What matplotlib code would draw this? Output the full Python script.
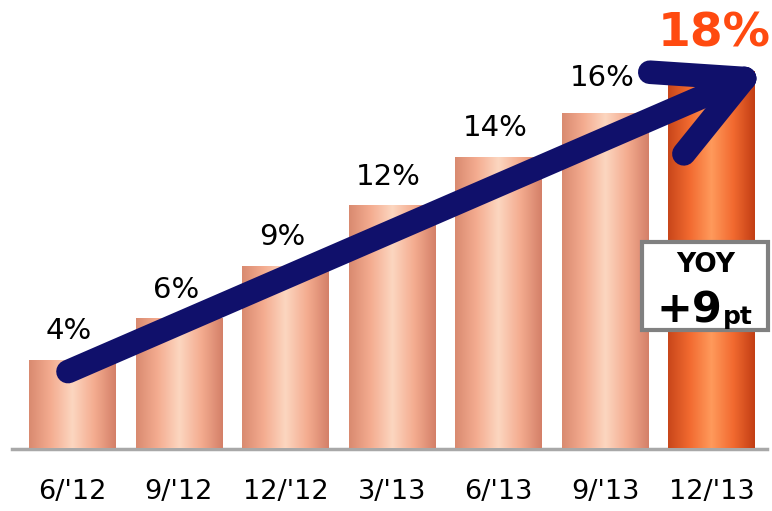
import numpy as np
import matplotlib.pyplot as plt
from matplotlib.patches import Rectangle, FancyBboxPatch
from matplotlib.colors import LinearSegmentedColormap

# --- data ---
periods = ["6/'12", "9/'12", "12/'12", "3/'13", "6/'13", "9/'13", "12/'13"]
values = [4.2, 6.2, 8.7, 11.6, 13.9, 16.0, 18.0]
labels = ["4%", "6%", "9%", "12%", "14%", "16%", "18%"]

NAVY = "#10106B"
HIGHLIGHT = "#FF4A10"

light_cmap = LinearSegmentedColormap.from_list(
    "light", ["#D98A70", "#F4AC90", "#FCD6C0", "#F4AC90", "#D48068"])
dark_cmap = LinearSegmentedColormap.from_list(
    "dark", ["#C8461A", "#F26A30", "#FF9A5C", "#F26A30", "#C23E14"])

fig = plt.figure(figsize=(7.72, 5.11), dpi=100)
ax = fig.add_axes([19 / 772, 63 / 511, 748 / 772, 448 / 511])
ax.set_xlim(-0.5, 6.52)
ax.set_ylim(0, 21.4)
ax.axis("off")

width = 0.81
grad = np.linspace(0, 1, 256).reshape(1, -1)
for i, v in enumerate(values):
    cmap = dark_cmap if i == len(values) - 1 else light_cmap
    x0 = i - width / 2
    im = ax.imshow(grad, cmap=cmap, aspect="auto",
                   extent=(x0, x0 + width, 0, v), zorder=2)
    clip = Rectangle((x0, 0), width, v, transform=ax.transData)
    im.set_clip_path(clip)

# floor
ax.plot([-0.57, 6.52], [-0.05, -0.05], color="#A8A8A8", lw=2.5,
        zorder=1, clip_on=False)

# value labels
for i, (v, lab) in enumerate(zip(values, labels)):
    if i == len(values) - 1:
        ax.text(i + 0.02, v + 0.7, lab, ha="center", va="bottom",
                fontsize=34, fontweight="bold", color=HIGHLIGHT, zorder=5)
    else:
        off = 1.0 if i == 5 else 0.7
        ax.text(i - 0.03, v + off, lab, ha="center", va="bottom",
                fontsize=21, color="black", zorder=5)

# x labels
for i, p in enumerate(periods):
    ax.text(i, -1.5, p, ha="center", va="top", fontsize=19.5,
            color="black", clip_on=False)

# trend arrow (annotation)
tip = (6.31, 17.65)
lw = 17
ax.plot([-0.04, tip[0]], [3.65, tip[1]], color=NAVY, lw=lw,
        solid_capstyle="round", zorder=4)
ax.plot([5.42, tip[0]], [17.95, tip[1]], color=NAVY, lw=lw,
        solid_capstyle="round", zorder=4)
ax.plot([5.74, tip[0]], [14.05, tip[1]], color=NAVY, lw=lw,
        solid_capstyle="round", zorder=4)

# YOY box
box = FancyBboxPatch((642 / 772, 181 / 511), 126 / 772, 88 / 511,
                     boxstyle="square,pad=0", transform=fig.transFigure,
                     facecolor="white", edgecolor="#808080", lw=3, zorder=6)
fig.patches.append(box)
fig.text(706 / 772, 246 / 511, "YOY", ha="center", va="center",
         fontsize=19, fontweight="bold", zorder=7)
fig.text(722 / 772, 201 / 511, "+9", ha="right", va="center",
         fontsize=31, fontweight="bold", zorder=7)
fig.text(723 / 772, 194 / 511, "pt", ha="left", va="center",
         fontsize=18, fontweight="bold", zorder=7)

fig.savefig("out.png", dpi=100)
